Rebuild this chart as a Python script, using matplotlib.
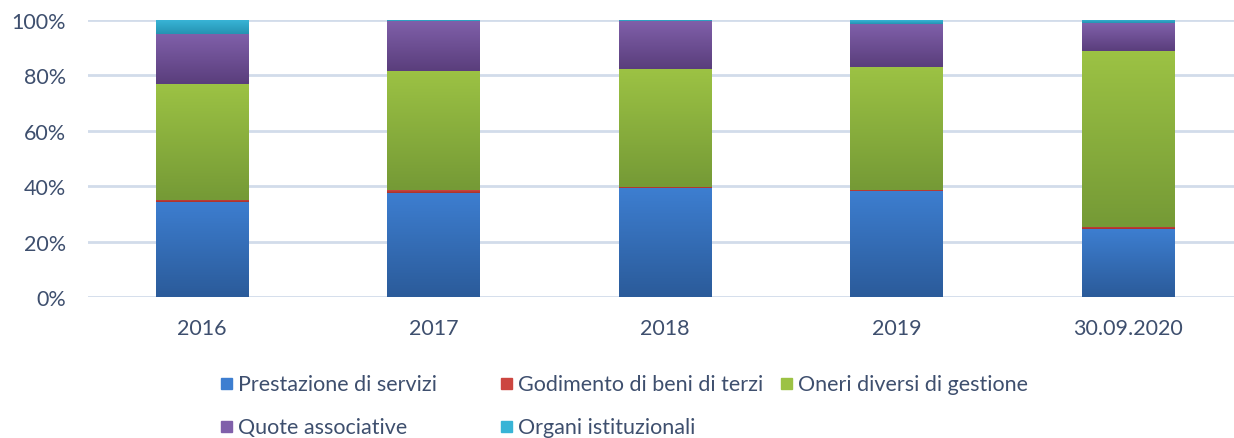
import numpy as np
import matplotlib
matplotlib.use("Agg")
import matplotlib.pyplot as plt
from matplotlib.colors import LinearSegmentedColormap
from matplotlib.patches import Rectangle

plt.rcParams['font.family'] = ['Lato', 'DejaVu Sans']

categories = ["2016", "2017", "2018", "2019", "30.09.2020"]
series = ["Prestazione di servizi", "Godimento di beni di terzi",
          "Oneri diversi di gestione", "Quote associative", "Organi istituzionali"]
prestazione = [34.3, 37.5, 39.2, 38.4, 24.5]
godimento = [0.8, 1.0, 0.6, 0.3, 0.9]
oneri = [41.8, 43.1, 42.5, 44.2, 63.5]
quote = [18.1, 18.1, 17.5, 15.7, 10.0]
organi = [5.0, 0.3, 0.2, 1.4, 1.1]
values = [prestazione, godimento, oneri, quote, organi]

# (bottom colour, top colour) for the Excel-like gradient
shades = [("#2b5b9a", "#3d7ed0"),
          ("#a8322c", "#cc4640"),
          ("#759a36", "#9cc244"),
          ("#5a3e7c", "#8060aa"),
          ("#2593b2", "#38b4d6")]
text_col = "#3e4f6e"

fig = plt.figure(figsize=(12.34, 4.39), dpi=100)
ax = fig.add_axes([88/1234, 1-298/439, 1-88/1234, 277/439])

x = np.arange(len(categories))
width = 0.40
bottom = np.zeros(len(categories))
grad = np.linspace(0, 1, 100).reshape(-1, 1)
for vals, (c0, c1) in zip(values, shades):
    vals = np.array(vals)
    bars = ax.bar(x, vals, width, bottom=bottom, color=c1, linewidth=0, zorder=2)
    cmap = LinearSegmentedColormap.from_list("g", [c0, c1])
    for b in bars:
        x0, y0 = b.get_x(), b.get_y()
        im = ax.imshow(grad, extent=[x0, x0 + b.get_width(), y0, y0 + b.get_height()],
                       origin="lower", aspect="auto", cmap=cmap, zorder=3,
                       interpolation="bilinear")
        im.set_clip_path(b)
    bottom += vals

ax.set_xlim(-0.492, 4.458)
ax.set_ylim(0, 100)
ax.set_yticks(np.arange(0, 101, 20))
ax.set_yticklabels([f"{v}%" for v in range(0, 101, 20)])
ax.set_xticks(x)
ax.set_xticklabels(categories)
ax.grid(axis="y", color="#d2dcea", linewidth=2, zorder=0)
ax.set_axisbelow(True)
for s in ax.spines.values():
    s.set_visible(False)
ax.tick_params(axis="both", length=0, labelsize=15.5, colors=text_col)
ax.tick_params(axis="y", pad=16)
ax.tick_params(axis="x", pad=15)

# legend, laid out like the Excel one
cols = [221, 501, 781]
rows = [384, 427]
pos = [(cols[0], rows[0]), (cols[1], rows[0]), (cols[2], rows[0]),
       (cols[0], rows[1]), (cols[1], rows[1])]
for name, (c0, c1), (px, py) in zip(series, shades, pos):
    fig.patches.append(Rectangle((px / 1234, 1 - (py + 5.5) / 439), 11 / 1234, 11 / 439,
                                 transform=fig.transFigure, color=c1, figure=fig))
    fig.text((px + 17) / 1234, 1 - (py + 1) / 439, name, fontsize=15.5, color=text_col,
             va="center", ha="left")

fig.savefig("out.png", dpi=100)
